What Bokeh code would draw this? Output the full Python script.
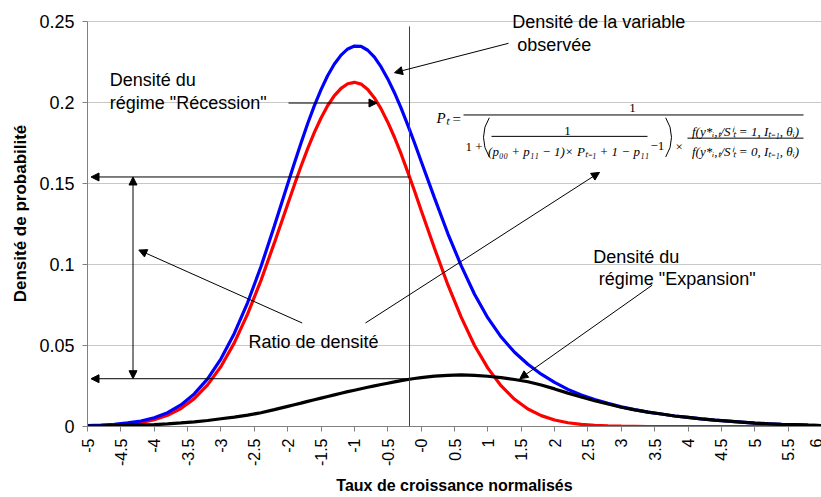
import math
from bokeh.plotting import figure
from bokeh.models import Range1d, FixedTicker, Label, Arrow, NormalHead
from bokeh.embed import file_html
from bokeh.resources import INLINE

# ---- data ----
x_vals = [-5.0, -4.8, -4.6, -4.4, -4.2, -4.0, -3.8, -3.6, -3.4, -3.2, -3.0, -2.8, -2.6, -2.4,
          -2.2, -2.0, -1.9, -1.8, -1.7, -1.6, -1.5, -1.4, -1.3, -1.2, -1.1, -1.0, -0.9, -0.8,
          -0.7, -0.6, -0.5, -0.4, -0.3, -0.2, -0.1, 0.0, 0.2, 0.4,
          0.6, 0.8, 1.0, 1.2, 1.4, 1.6, 1.8, 2.0, 2.2, 2.4, 2.6, 2.8, 3.0, 3.2, 3.4, 3.6,
          3.8, 4.0, 4.2, 4.4, 4.6, 4.8, 5.0, 5.2, 5.4, 5.6, 5.8, 6.0]
recession = [0.0002, 0.0004, 0.0007, 0.0014, 0.0024, 0.0042, 0.0069, 0.0111, 0.0172, 0.0257,
             0.0370, 0.0516, 0.0695, 0.0902, 0.1133, 0.1372, 0.1491, 0.1606, 0.1715, 0.1815,
             0.1904, 0.1981, 0.2042, 0.2087, 0.2115, 0.2124, 0.2113, 0.2080, 0.2028, 0.1960,
             0.1878, 0.1785, 0.1682, 0.1570, 0.1455, 0.1335, 0.1100, 0.0875, 0.0675, 0.0500,
             0.0360, 0.0250, 0.0168, 0.0108, 0.0067, 0.0040, 0.0023, 0.0013, 0.0007, 0.0004,
             0.0002, 0.0001, 0, 0, 0, 0, 0, 0, 0, 0, 0, 0, 0, 0, 0, 0]
expansion = [0.0003, 0.0004, 0.0006, 0.0008, 0.0010, 0.0012, 0.0016, 0.0022, 0.0029, 0.0037,
             0.0048, 0.0058, 0.0070, 0.0085, 0.0104, 0.0124, 0.0134, 0.0144, 0.0155, 0.0165,
             0.0175, 0.0185, 0.0195, 0.0205, 0.0215, 0.0224, 0.0233, 0.0242, 0.0251, 0.0259,
             0.0267, 0.0275, 0.0283, 0.0290, 0.0296, 0.0302, 0.0311, 0.0316, 0.0318, 0.0316,
             0.0310, 0.0302, 0.0290, 0.0276, 0.0256, 0.0232, 0.0206, 0.0182, 0.0159, 0.0139,
             0.0119, 0.0103, 0.0089, 0.0077, 0.0065, 0.0056, 0.0047, 0.0039, 0.0033, 0.0027,
             0.0021, 0.0017, 0.0013, 0.0011, 0.0008, 0.0006]
observed = [0.0005, 0.0008, 0.0013, 0.0022, 0.0034, 0.0054, 0.0085, 0.0133, 0.0201, 0.0294,
            0.0418, 0.0574, 0.0765, 0.0987, 0.1237, 0.1496, 0.1625, 0.1750, 0.1870, 0.1980,
            0.2079, 0.2166, 0.2237, 0.2292, 0.2330, 0.2348, 0.2346, 0.2322, 0.2279, 0.2219,
            0.2145, 0.2060, 0.1965, 0.1860, 0.1751, 0.1637, 0.1411, 0.1191, 0.0993, 0.0816,
            0.0670, 0.0552, 0.0458, 0.0384, 0.0323, 0.0272, 0.0229, 0.0195, 0.0166, 0.0143,
            0.0121, 0.0104, 0.0089, 0.0077, 0.0065, 0.0056, 0.0047, 0.0039, 0.0033, 0.0027,
            0.0021, 0.0017, 0.0013, 0.0011, 0.0008, 0.0006]
x_ticks = [-5, -4.5, -4, -3.5, -3, -2.5, -2, -1.5, -1, -0.5, 0, 0.5, 1, 1.5, 2, 2.5, 3,
           3.5, 4, 4.5, 5, 5.5, 6]
x_tick_labels = ["-5", "-4.5", "-4", "-3.5", "-3", "-2.5", "-2", "-1.5", "-1", "-0.5", "-0",
                 "0.5", "1", "1.5", "2", "2.5", "3", "3.5", "4", "4.5", "5", "5.5", "6"]
y_ticks = [0, 0.05, 0.1, 0.15, 0.2, 0.25]
y_tick_labels = ["0", "0.05", "0.1", "0.15", "0.2", "0.25"]

# ---- layout: figure pixel position -> data coordinates (annotations only) ----
W, H = 821, 497
FX0, FX1 = 87.0, 821.0      # x = -5 and x = 6
FY0, FY1 = 428.0, 21.0      # y = 0 and y = 0.25
def X(px):
    return -5 + (px - FX0) * 11.0 / (FX1 - FX0)
def Y(py):
    return (FY0 - py) * 0.25 / (FY0 - FY1)

y_top = Y(0)  # frame reaches the top of the canvas so the top text is not clipped

p = figure(width=W, height=H, x_range=Range1d(-5, 6), y_range=Range1d(0, y_top),
           output_backend="svg", toolbar_location=None,
           min_border_top=0, min_border_left=int(FX0), min_border_right=0,
           min_border_bottom=int(H - FY0))
p.outline_line_color = None
p.background_fill_color = "white"
p.border_fill_color = "white"

# grid
p.xgrid.grid_line_color = None
p.ygrid.grid_line_color = "#c8c8c8"
p.ygrid.grid_line_width = 1

# axes
p.xaxis.ticker = FixedTicker(ticks=x_ticks)
p.xaxis.major_label_overrides = {t: l for t, l in zip(x_ticks, x_tick_labels)}
p.yaxis.ticker = FixedTicker(ticks=y_ticks)
p.yaxis.major_label_overrides = {t: l for t, l in zip(y_ticks, y_tick_labels)}
p.yaxis.bounds = (0, 0.25)
for ax in (p.xaxis, p.yaxis):
    ax.axis_line_color = "#808080"
    ax.major_tick_line_color = "#808080"
    ax.minor_tick_line_color = None
    ax.major_tick_out = 5
    ax.major_tick_in = 0
    ax.major_label_text_font = "Liberation Sans"
    ax.major_label_text_color = "black"
    ax.axis_label_text_font = "Liberation Sans"
    ax.axis_label_text_font_style = "bold"
    ax.axis_label_text_color = "black"
p.xaxis.major_label_text_font_size = "16px"
p.xaxis.major_label_orientation = math.pi / 2
p.xaxis.major_label_standoff = 7
p.xaxis.axis_label = "Taux de croissance normalisés"
p.xaxis.axis_label_text_font_size = "16px"
p.xaxis.axis_label_standoff = 8
p.yaxis.major_label_text_font_size = "18px"
p.yaxis.major_label_standoff = 8
p.yaxis.axis_label = "Densité de probabilité"
p.yaxis.axis_label_text_font_size = "17px"
p.yaxis.axis_label_standoff = 6

# curves
p.line(x_vals, recession, line_color="#ff0000", line_width=3.2)
p.line(x_vals, observed, line_color="#0000ff", line_width=3.2)
p.line(x_vals, expansion, line_color="#000000", line_width=3.2)


def line(x0, y0, x1, y1, color="black", width=1):
    p.add_layout(Arrow(x_start=X(x0), y_start=Y(y0), x_end=X(x1), y_end=Y(y1), end=None,
                       line_color=color, line_width=width))


def head():
    return NormalHead(size=8, fill_color="black", line_color="black", line_width=1)


def arrow(x0, y0, x1, y1, both=False):
    p.add_layout(Arrow(x_start=X(x0), y_start=Y(y0), x_end=X(x1), y_end=Y(y1),
                       end=head(), start=head() if both else None,
                       line_color="black", line_width=1))


def lab(text, px, py, size="18px", font="Liberation Sans", style="normal", align="left"):
    p.add_layout(Label(x=X(px), y=Y(py), text=text, text_font=font, text_font_size=size,
                       text_font_style=style, text_align=align, text_baseline="alphabetic",
                       text_color="black"))


# vertical line at the observed value
line(409, 26, 409, 428, color="#404040")

# arrows
arrow(508, 43, 394, 72.5)          # observed density
arrow(288, 103, 376.5, 103)        # recession
arrow(409, 177.3, 90.5, 177.3)     # upper horizontal
arrow(409, 380, 90.5, 380)         # lower horizontal
arrow(132.5, 380, 132.5, 177.3, both=True)  # density ratio
arrow(301.7, 324, 138.3, 250.7)    # ratio -> vertical arrow
arrow(365, 324, 599, 172.7)        # ratio -> formula
arrow(651.7, 286, 519.3, 380)      # expansion

# annotation texts
lab("Densité de la variable", 511.7, 22)
lab("observée", 516.7, 45)
lab("Densité  du", 109.3, 80)
lab("régime \"Récession\"", 109.3, 102.5)
lab("Ratio de densité", 248, 343.3)
lab("Densité du", 592.7, 257.7)
lab("régime \"Expansion\"", 598.3, 280)

# formula
F = "Liberation Serif"
fs = "13px"
lab("Pₜ", 436, 118, size="15px", font=F, style="italic")
lab("=", 452, 119, size="15px", font=F)
line(463, 115, 803, 115)
lab("1", 632, 108, size=fs, font=F, align="center")
lab("1 +", 465, 146.5, size=fs, font=F)
lab("1", 567, 131.5, size=fs, font=F, align="center")
line(491, 136.5, 647, 136.5)
lab("(p₀₀ + p₁₁ − 1)× Pₜ₋₁ + 1 − p₁₁", 568, 152, size=fs, font=F, style="italic", align="center")
lab("−1", 650, 146.5, size=fs, font=F)
lab("×", 675, 146.5, size=fs, font=F)
lab("f(y*ᵢ,ₜ/Sⁱₜ = 1, Iₜ₋₁, θᵢ)", 745, 131.5, size=fs, font=F, style="italic", align="center")
line(687, 138.3, 803, 138.3)
lab("f(y*ᵢ,ₜ/Sⁱₜ = 0, Iₜ₋₁, θᵢ)", 745, 152, size=fs, font=F, style="italic", align="center")

# tall thin parentheses of the formula
R = 36
p.arc(x=[X(483 + R)], y=[Y(137.5)], radius=R, radius_units="screen",
      start_angle=math.radians(147), end_angle=math.radians(213),
      line_color="black", line_width=1)
p.arc(x=[X(671 - R)], y=[Y(137.5)], radius=R, radius_units="screen",
      start_angle=math.radians(-33), end_angle=math.radians(33),
      line_color="black", line_width=1)

open("out.html", "w").write(file_html(p, INLINE))
